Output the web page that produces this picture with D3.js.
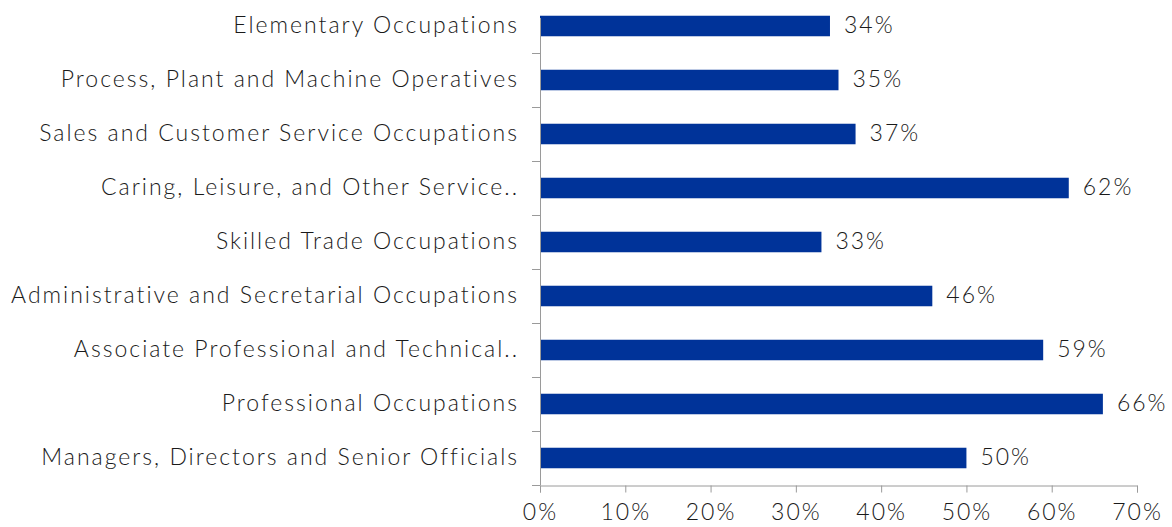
<!DOCTYPE html>
<html>
<head>
<meta charset="utf-8">
<script src="https://cdn.jsdelivr.net/npm/d3@7"></script>
<style>
  body { margin: 0; background: #fff; }
  text { font-family: "Lato", "DejaVu Sans", sans-serif; font-weight: 300; fill: #1a1a1a; letter-spacing: 2px; }
</style>
</head>
<body>
<div id="chart"></div>
<script>
// categories top to bottom, as in the picture
var categories = [
  "Elementary Occupations",
  "Process, Plant and Machine Operatives",
  "Sales and Customer Service Occupations",
  "Caring, Leisure, and Other Service..",
  "Skilled Trade Occupations",
  "Administrative and Secretarial Occupations",
  "Associate Professional and Technical..",
  "Professional Occupations",
  "Managers, Directors and Senior Officials"
];
var values = [34, 35, 37, 62, 33, 46, 59, 66, 50];
var xTicks = [0, 10, 20, 30, 40, 50, 60, 70];

var width = 1172, height = 527;
var x0 = 540, x1 = 1137, yTop = -1, yBottom = 485;
var fs = 23;

var svg = d3.select('#chart').append('svg')
    .attr('width', width)
    .attr('height', height);

var x = d3.scaleLinear().domain([0, 70]).range([x0, x1]);
var y = d3.scaleBand().domain(categories).range([yTop, yBottom]).paddingInner(0.62).paddingOuter(0.31);

var data = categories.map(function(c, i){ return {cat: c, val: values[i]}; });

// bars
svg.selectAll('rect.bar')
    .data(data)
  .enter().append('rect')
    .attr('class', 'bar')
    .attr('x', x(0))
    .attr('y', function(d){ return y(d.cat); })
    .attr('width', function(d){ return x(d.val) - x(0); })
    .attr('height', y.bandwidth())
    .attr('fill', '#003399');

// value labels
svg.selectAll('text.val')
    .data(data)
  .enter().append('text')
    .attr('class', 'val')
    .attr('x', function(d){ return x(d.val) + 14; })
    .attr('y', function(d){ return y(d.cat) + y.bandwidth()/2; })
    .attr('dy', '0.3em')
    .attr('font-size', fs)
    .text(function(d){ return d.val + '%'; });

// y axis line + ticks between categories
var axisColor = '#9a9a9a';
svg.append('line')
    .attr('x1', x0 + 0.5).attr('x2', x0 + 0.5)
    .attr('y1', 18).attr('y2', yBottom + 0.5)
    .attr('stroke', axisColor);

var step = (yBottom - yTop) / categories.length;
var yTicks = d3.range(1, categories.length + 1).map(function(i){ return yTop + i*step; });
svg.selectAll('line.ytick')
    .data(yTicks)
  .enter().append('line')
    .attr('class', 'ytick')
    .attr('x1', x0 - 8).attr('x2', x0)
    .attr('y1', function(d){ return Math.round(d) + 0.5; })
    .attr('y2', function(d){ return Math.round(d) + 0.5; })
    .attr('stroke', axisColor);

// category labels
svg.selectAll('text.cat')
    .data(data)
  .enter().append('text')
    .attr('class', 'cat')
    .attr('x', x0 - 21)
    .attr('y', function(d){ return y(d.cat) + y.bandwidth()/2; })
    .attr('dy', '0.3em')
    .attr('text-anchor', 'end')
    .attr('font-size', fs)
    .text(function(d){ return d.cat; });

// x axis
var xAxis = d3.axisBottom(x)
    .tickValues(xTicks)
    .tickSize(7)
    .tickFormat(function(d){ return d + '%'; });

var gx = svg.append('g')
    .attr('transform', 'translate(0,' + (yBottom + 0.5) + ')')
    .call(xAxis);
gx.select('.domain').attr('stroke', axisColor);
gx.selectAll('.tick line').attr('stroke', axisColor);
gx.selectAll('.tick text')
    .attr('font-size', fs)
    .attr('font-family', null)
    .attr('fill', '#1a1a1a')
    .attr('y', 18);
</script>
</body>
</html>
